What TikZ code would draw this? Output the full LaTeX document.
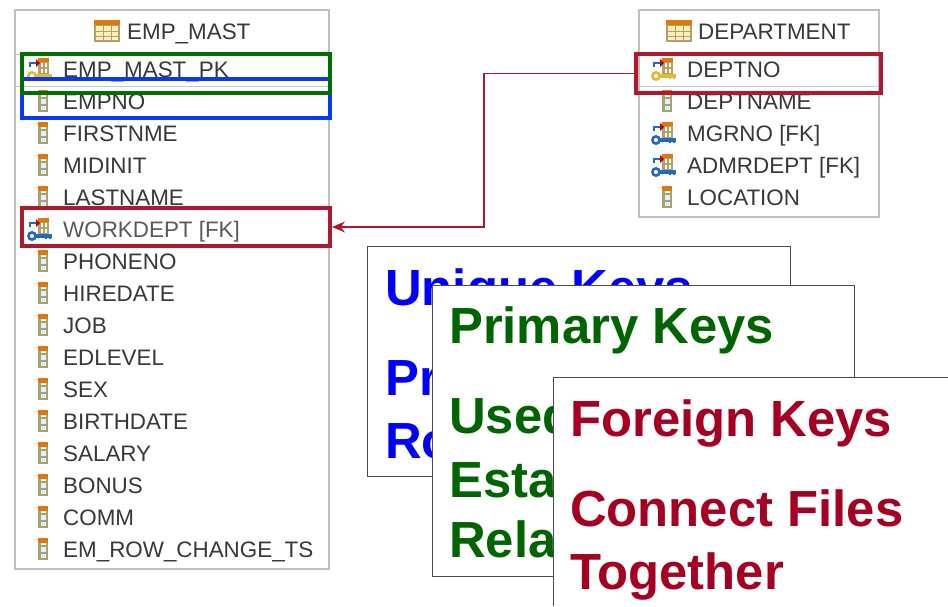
\documentclass[tikz,border=0pt]{standalone}
\usepackage{fontspec}
\setmainfont{Liberation Sans}
\usetikzlibrary{arrows.meta}
\definecolor{pkgreen}{HTML}{007000}
\definecolor{ukblue}{HTML}{0A36F5}
\definecolor{fkred}{HTML}{B0182E}
\definecolor{txtblue}{HTML}{0000FF}
\definecolor{txtgreen}{HTML}{006400}
\definecolor{txtred}{HTML}{A50021}
\definecolor{tan}{HTML}{B0A070}
\definecolor{icoorange}{HTML}{E07810}
\definecolor{keygold}{HTML}{E8B830}
\definecolor{keyblue}{HTML}{2068C8}
\tikzset{
  x=1pt,y=-1pt,
  panel/.style={draw=black!25,line width=1.6pt,fill=white},
  sep/.style={draw=black!22,line width=1pt},
  rowtext/.style={anchor=base west,inner sep=0pt,text=black!78,font=\fontsize{22.4}{22.4}\selectfont},
  hilite/.style={draw=#1,line width=4pt,inner sep=0pt,fill=none},
  slide/.style={draw=black!70,line width=1pt,fill=white},
  bigtext/.style={anchor=base west,inner sep=0pt,text=#1,font=\fontsize{50.8}{50.8}\selectfont\bfseries},
  fkline/.style={draw=fkred,line width=1.3pt},
  column/.pic={
    \fill[tan] (-5,-11) rectangle (5,11);
    \fill[white!85!cyan] (-2.5,-2) rectangle (2.5,3);
    \fill[white!85!cyan] (-2.5,5) rectangle (2.5,9);
    \fill[white!85!yellow] (-2.5,-8) rectangle (2.5,-4);
    \fill[icoorange] (-5,-11) rectangle (5,-6);
  },
  keyrow/.pic={
    \fill[tan] (-1,-10) rectangle (10,7);
    \fill[white!90!yellow] (2,-5) rectangle (4,-1);
    \fill[white!90!yellow] (6,-5) rectangle (8,-1);
    \fill[white!90!yellow] (2,1) rectangle (4,5);
    \fill[white!90!yellow] (6,1) rectangle (8,5);
    \fill[icoorange] (-1,-10) rectangle (10,-6);
    \draw[keyblue,line width=2pt] (-9,-1) -- (-9,-5) -- (-3,-5);
    \fill[red!75!black] (-3,-9) -- (1,-5) -- (-3,-1) -- cycle;
    \draw[#1,line width=2.6pt,fill=white] (-7,8) circle (3.6);
    \draw[#1,line width=3.2pt] (-3.5,8) -- (13,8);
    \draw[#1,line width=2pt] (7,8) -- (7,11) (11,8) -- (11,11);
  },
  tableicon/.pic={
    \fill[tan] (0,0) rectangle (26,22);
    \fill[white!80!yellow!90!orange] (2,6) rectangle (24,20);
    \draw[tan,line width=1pt] (9,6) -- (9,20) (17,6) -- (17,20) (2,11) -- (24,11) (2,16) -- (24,16);
    \fill[icoorange] (0,0) rectangle (26,5);
  }
}
\begin{document}
\begin{tikzpicture}
\useasboundingbox (0,0) rectangle (948,606);
\fill[white] (0,0) rectangle (948,606);

% EMP_MAST table
\draw[panel] (15,10) rectangle (329,569);
\draw[sep] (15,54) -- (329,54) (15,86) -- (329,86);
\pic at (94,20) {tableicon};
\node[rowtext] (emptitle) at (127,39) {EMP\_MAST};
\pic at (39,68) {keyrow=keygold};
\node[rowtext] (emp1) at (63,77) {EMP\_MAST\_PK};
\foreach \i/\yy/\lab in {2/101/EMPNO,3/133/FIRSTNME,4/165/MIDINIT,5/197/LASTNAME,
  7/261/PHONENO,8/293/HIREDATE,9/325/JOB,10/357/EDLEVEL,11/389/SEX,12/421/BIRTHDATE,
  13/453/SALARY,14/485/BONUS,15/517/COMM}{
  \pic at (43,\yy) {column};
  \node[rowtext] (emp\i) at (63,\yy+8) {\lab};
}
\pic at (43,549) {column};
\node[rowtext] (emp16) at (63,557) {EM\_ROW\_CHANGE\_TS};
\pic at (39,228) {keyrow=keyblue};
\node[rowtext,text=black!65] (emp6) at (63,237) {WORKDEPT [FK]};

% DEPARTMENT table
\draw[panel] (639,10) rectangle (879,217);
\draw[sep] (639,86) -- (879,86);
\pic at (666,20) {tableicon};
\node[rowtext] (depttitle) at (698,39) {DEPARTMENT};
\pic at (663,68) {keyrow=keygold};
\node[rowtext] (dept1) at (687,77) {DEPTNO};
\pic at (667,101) {column};
\node[rowtext] (dept2) at (687,109) {DEPTNAME};
\pic at (663,132) {keyrow=keyblue};
\node[rowtext] (dept3) at (687,141) {MGRNO [FK]};
\pic at (663,164) {keyrow=keyblue};
\node[rowtext] (dept4) at (687,173) {ADMRDEPT [FK]};
\pic at (667,197) {column};
\node[rowtext] (dept5) at (687,205) {LOCATION};

% highlight rectangles
\node[hilite=ukblue,minimum width=308pt,minimum height=39pt] (ukbox) at (176,98.5) {};
\node[hilite=pkgreen,minimum width=308pt,minimum height=39pt] (pkbox) at (176,73.5) {};
\node[hilite=fkred,minimum width=308pt,minimum height=38pt] (workfk) at (176,227) {};
\node[hilite=fkred,minimum width=245pt,minimum height=39pt] (deptpk) at (758.5,73.5) {};

% connector
\coordinate (bendA) at (484,73.5);
\coordinate (bendB) at (484,227);
\draw[fkline,-{Stealth[length=13pt,width=11pt]}] (deptpk.west) -- (bendA) -- (bendB) -- (workfk.east);

% slides
\draw[slide] (367.5,246.5) rectangle (790.5,476.5);
\node[bigtext=txtblue] (u1) at (385,305) {Unique Keys};
\node[bigtext=txtblue] (u2) at (385,395) {Pr};
\node[bigtext=txtblue] (u3) at (385,458) {Ro};

\draw[slide] (432.5,285.5) rectangle (854.5,576.5);
\node[bigtext=txtgreen] (p1) at (449,343) {Primary Keys};
\node[bigtext=txtgreen] (p2) at (449,433) {Used};
\node[bigtext=txtgreen] (p3) at (449,497) {Esta};
\node[bigtext=txtgreen] (p4) at (449,557) {Rela};

\fill[white] (553.5,377.5) rectangle (948,606);
\draw[slide,fill=none] (948,377.5) -- (553.5,377.5) -- (553.5,606);
\node[bigtext=txtred] (f1) at (570,436) {Foreign Keys};
\node[bigtext=txtred] (f2) at (570,526) {Connect Files};
\node[bigtext=txtred] (f3) at (570,589) {Together};
\end{tikzpicture}
\end{document}
